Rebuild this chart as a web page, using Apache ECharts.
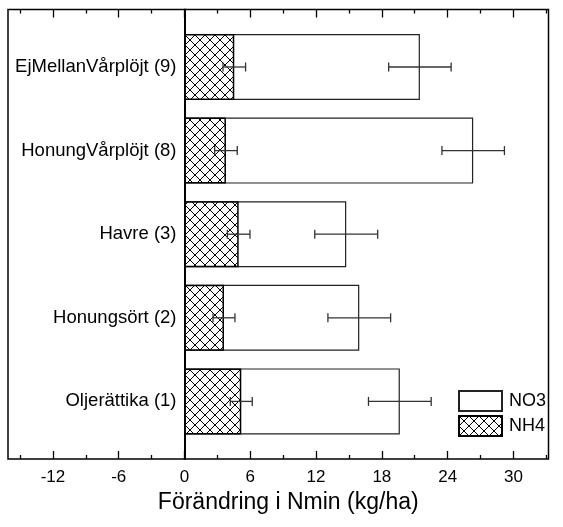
<!DOCTYPE html>
<html>
<head>
<meta charset="utf-8">
<script src="https://cdn.jsdelivr.net/npm/echarts@6/dist/echarts.min.js"></script>
<style>
  html, body { margin: 0; padding: 0; background: #fff; }
  #chart { width: 563px; height: 527px; }
</style>
</head>
<body>
<div id="chart"></div>
<script>
// Crop categories, bottom to top
const categories = ['Oljerättika (1)', 'Honungsört (2)', 'Havre (3)', 'HonungVårplöjt (8)', 'EjMellanVårplöjt (9)'];
// Change in mineral nitrogen (kg/ha) with standard errors
const no3 = [19.64, 15.94, 14.75, 26.33, 21.47];
const no3Err = [2.86, 2.86, 2.87, 2.85, 2.85];
const nh4 = [5.18, 3.6, 4.94, 3.78, 4.54];
const nh4Err = [1.0, 1.0, 1.03, 1.03, 1.03];
// X axis tick values
const majorTicks = [-12, -6, 0, 6, 12, 18, 24, 30];
const minorTicks = [-15, -9, -3, 3, 9, 15, 21, 27, 33];

const X_MIN = -16.1, X_MAX = 33.2;
const FONT = "'Liberation Sans', Arial, sans-serif";

// frame geometry; the bar grid starts at the zero line of the frame
const FRAME_LEFT = 8, FRAME_RIGHT = 14.5, W = 563;
const frameWidth = W - FRAME_LEFT - FRAME_RIGHT;
const zeroX = FRAME_LEFT + (0 - X_MIN) / (X_MAX - X_MIN) * frameWidth;

// cross-hatch tile for the NH4 bars
function hatchTile() {
  const c = document.createElement('canvas');
  c.width = 10; c.height = 10;
  const g = c.getContext('2d');
  g.fillStyle = '#fff';
  g.fillRect(0, 0, 10, 10);
  g.strokeStyle = '#000';
  g.lineWidth = 1;
  g.beginPath();
  g.moveTo(0, 0); g.lineTo(10, 10);
  g.moveTo(10, 0); g.lineTo(0, 10);
  g.stroke();
  return c;
}
const hatch = { image: hatchTile(), repeat: 'repeat' };

function errorSeries(name, values, errs) {
  return {
    type: 'custom',
    name: name + ' err',
    xAxisIndex: 0, yAxisIndex: 0,
    z: 5,
    silent: true,
    data: values.map((v, i) => [v, i, errs[i]]),
    encode: { x: 0, y: 1 },
    renderItem: function (params, api) {
      const v = api.value(0), c = api.value(1), e = api.value(2);
      const a = api.coord([v - e, c]);
      const b = api.coord([v + e, c]);
      const h = 4.5;
      const st = { stroke: '#333', lineWidth: 1.3 };
      return {
        type: 'group',
        children: [
          { type: 'line', shape: { x1: a[0], y1: a[1], x2: b[0], y2: b[1] }, style: st },
          { type: 'line', shape: { x1: a[0], y1: a[1] - h, x2: a[0], y2: a[1] + h }, style: st },
          { type: 'line', shape: { x1: b[0], y1: b[1] - h, x2: b[0], y2: b[1] + h }, style: st }
        ]
      };
    }
  };
}

function tickAxis(position, values, len, labels) {
  return {
    type: 'value', gridIndex: 1, position: position,
    min: X_MIN, max: X_MAX,
    axisLine: { show: false },
    axisTick: { show: true, inside: true, length: len, customValues: values,
                lineStyle: { color: '#000', width: 1.3 } },
    axisLabel: labels ? { show: true, customValues: values, margin: 10,
                          color: '#000', fontSize: 17, fontFamily: FONT } : { show: false },
    splitLine: { show: false }
  };
}

const chart = echarts.init(document.getElementById('chart'), null, { renderer: 'canvas' });

const bottomMajor = tickAxis('bottom', majorTicks, 8, true);
bottomMajor.name = 'Förändring i Nmin (kg/ha)';
bottomMajor.nameLocation = 'middle';
bottomMajor.nameGap = 28;
bottomMajor.nameTextStyle = { color: '#000', fontSize: 23, fontFamily: FONT, padding: [0, 0, 0, 20] };

chart.setOption({
  animation: false,
  textStyle: { fontFamily: FONT },
  grid: [
    // bars (positive half of the value range)
    { left: zeroX, right: FRAME_RIGHT, top: 25.2, height: 418, containLabel: false, outerBoundsMode: 'none' },
    // frame and ticks
    { left: FRAME_LEFT, right: FRAME_RIGHT, top: 9.5, bottom: 68, show: true, containLabel: false, outerBoundsMode: 'none',
      borderColor: '#000', borderWidth: 1.5, backgroundColor: 'transparent', z: 10 }
  ],
  legend: {
    data: ['NO3', 'NH4'],
    orient: 'vertical',
    left: 458, top: 390,
    padding: 0,
    itemWidth: 43, itemHeight: 20, itemGap: 3,
    icon: 'rect',
    textStyle: { color: '#000', fontSize: 18, fontFamily: FONT, padding: [0, 0, 0, 2] }
  },
  xAxis: [
    { type: 'value', gridIndex: 0, min: 0, max: X_MAX,
      axisLine: { show: false }, axisTick: { show: false }, axisLabel: { show: false },
      splitLine: { show: false } },
    bottomMajor,
    tickAxis('bottom', minorTicks, 4, false),
    tickAxis('top', majorTicks, 8, false),
    tickAxis('top', minorTicks, 4, false)
  ],
  yAxis: [
    {
      type: 'category', gridIndex: 0, data: categories,
      axisLine: { show: false, onZero: false },
      axisTick: { show: false },
      axisLabel: { color: '#000', fontSize: 18.5, fontFamily: FONT, margin: 8 },
      splitLine: { show: false }
    },
    {
      type: 'value', gridIndex: 1, min: 0, max: 1,
      axisLine: { show: true, onZero: true, onZeroAxisIndex: 1, lineStyle: { color: '#000', width: 2 } },
      axisTick: { show: false },
      axisLabel: { show: false },
      splitLine: { show: false },
      z: 10
    }
  ],
  series: [
    {
      name: 'NO3', type: 'bar', xAxisIndex: 0, yAxisIndex: 0,
      data: no3, barWidth: 66,
      itemStyle: { color: '#fff', borderColor: '#222', borderWidth: 1.2 }
    },
    {
      name: 'NH4', type: 'bar', xAxisIndex: 0, yAxisIndex: 0,
      data: nh4, barWidth: 66, barGap: '-100%',
      itemStyle: { color: hatch, borderColor: '#000', borderWidth: 1.5 }
    },
    errorSeries('NO3', no3, no3Err),
    errorSeries('NH4', nh4, nh4Err)
  ]
});
</script>
</body>
</html>
